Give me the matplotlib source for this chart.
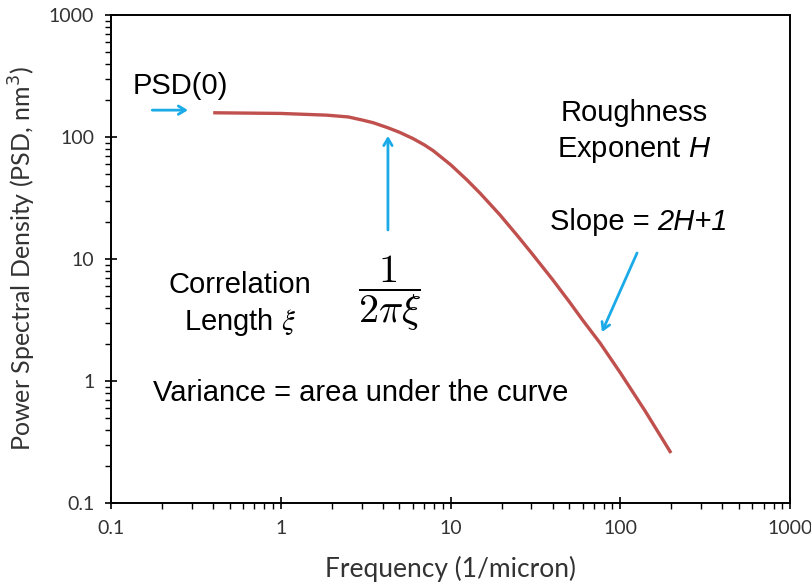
import matplotlib
matplotlib.use("Agg")
import matplotlib.pyplot as plt
from matplotlib.ticker import LogLocator, FixedLocator, FixedFormatter, NullFormatter

# ---- data ----
freq = [0.4, 1.0, 1.87, 2.5, 3.0, 3.5, 4.28, 5.0, 6.0, 7.0, 7.9, 10.0, 12.5, 15.0,
        19.5, 25.0, 30.0, 40.0, 50.0, 60.0, 76.0, 100.0, 140.0, 199.0]
psd = [158, 156, 151, 146, 138, 131, 119, 109.4, 97.2, 86.3, 77.3, 59.4, 44.5, 34.4,
       23.1, 15.3, 11.2, 6.76, 4.48, 3.16, 2.05, 1.17, 0.569, 0.257]

x_ticks = [0.1, 1, 10, 100, 1000]
x_tick_labels = ["0.1", "1", "10", "100", "1000"]
y_ticks = [0.1, 1, 10, 100, 1000]
y_tick_labels = ["0.1", "1", "10", "100", "1000"]

RED = "#C0504D"
BLUE = "#1AAAE8"

plt.rcParams["mathtext.fontset"] = "custom"
plt.rcParams["mathtext.rm"] = "Liberation Sans"
plt.rcParams["mathtext.it"] = "Liberation Sans:italic"

fig = plt.figure(figsize=(8.11, 5.88), dpi=100)
ax = fig.add_axes([111 / 811, 85 / 588, 679 / 811, 488 / 588])

ax.plot(freq, psd, color=RED, lw=2.4, solid_capstyle="butt", solid_joinstyle="round")

ax.set_xscale("log")
ax.set_yscale("log")
ax.set_xlim(0.1, 1000)
ax.set_ylim(0.1, 1000)

ax.xaxis.set_major_locator(FixedLocator(x_ticks))
ax.xaxis.set_major_formatter(FixedFormatter(x_tick_labels))
ax.yaxis.set_major_locator(FixedLocator(y_ticks))
ax.yaxis.set_major_formatter(FixedFormatter(y_tick_labels))
ax.xaxis.set_minor_locator(LogLocator(base=10, subs=range(2, 10)))
ax.yaxis.set_minor_locator(LogLocator(base=10, subs=range(2, 10)))
ax.xaxis.set_minor_formatter(NullFormatter())
ax.yaxis.set_minor_formatter(NullFormatter())

ax.tick_params(axis="both", which="major", direction="inout", length=8, width=1.2,
               color="black", labelsize=14, labelcolor="#333333", pad=8)
ax.tick_params(axis="both", which="minor", direction="out", length=4, width=1.0, color="black")
for lab in ax.get_xticklabels() + ax.get_yticklabels():
    lab.set_family("Lato")

for s in ax.spines.values():
    s.set_linewidth(1.4)
    s.set_color("black")

ax.set_xlabel("Frequency (1/micron)", family="Lato", fontsize=19, color="#333333", labelpad=14)
ax.set_ylabel("Power Spectral Density (PSD, nm$^3$)", family="Lato", fontsize=18,
              color="#333333", labelpad=8, math_fontfamily="dejavusans")


def af(px, py):
    return ((px - 111) / 679, (503 - py) / 488)


txt = dict(family="Liberation Sans", fontsize=21, color="black")

ax.text(*af(133, 86), "PSD(0)", ha="left", va="center", transform=ax.transAxes, **txt)
ax.text(*af(634, 113), "Roughness", ha="center", va="center", transform=ax.transAxes, **txt)
ax.text(*af(634, 150), "Exponent $\\mathit{H}$", ha="center", va="center",
        transform=ax.transAxes, **txt)
ax.text(*af(650, 222), "Slope =", ha="right", va="center", transform=ax.transAxes, **txt)
ax.text(*af(657, 222), "2H+1", ha="left", va="center", transform=ax.transAxes,
        fontstyle="italic", **txt)
ax.text(*af(240, 285), "Correlation", ha="center", va="center", transform=ax.transAxes, **txt)
ax.text(*af(240, 322), "Length $\\xi$", ha="center", va="center", transform=ax.transAxes,
        math_fontfamily="stix", **txt)
ax.text(*af(153, 393), "Variance = area under the curve", ha="left", va="center",
        transform=ax.transAxes, **txt)

ax.text(*af(389, 293), r"$\dfrac{1}{2\pi\xi}$", ha="center", va="center",
        transform=ax.transAxes, fontsize=29, color="black", math_fontfamily="cm")

arrow = dict(arrowstyle="->,head_length=0.5,head_width=0.3", color=BLUE, lw=2.0,
             shrinkA=0, shrinkB=0)
# PSD(0) arrow
ax.annotate("", xy=(0.284, 166), xytext=(0.175, 166), arrowprops=arrow)
# corner-frequency arrow
ax.annotate("", xy=(4.28, 102), xytext=(4.28, 17.3), arrowprops=arrow)
# slope arrow
ax.annotate("", xy=(78, 2.52), xytext=(125.6, 11.2), arrowprops=arrow)

fig.savefig("out.png", dpi=100)
